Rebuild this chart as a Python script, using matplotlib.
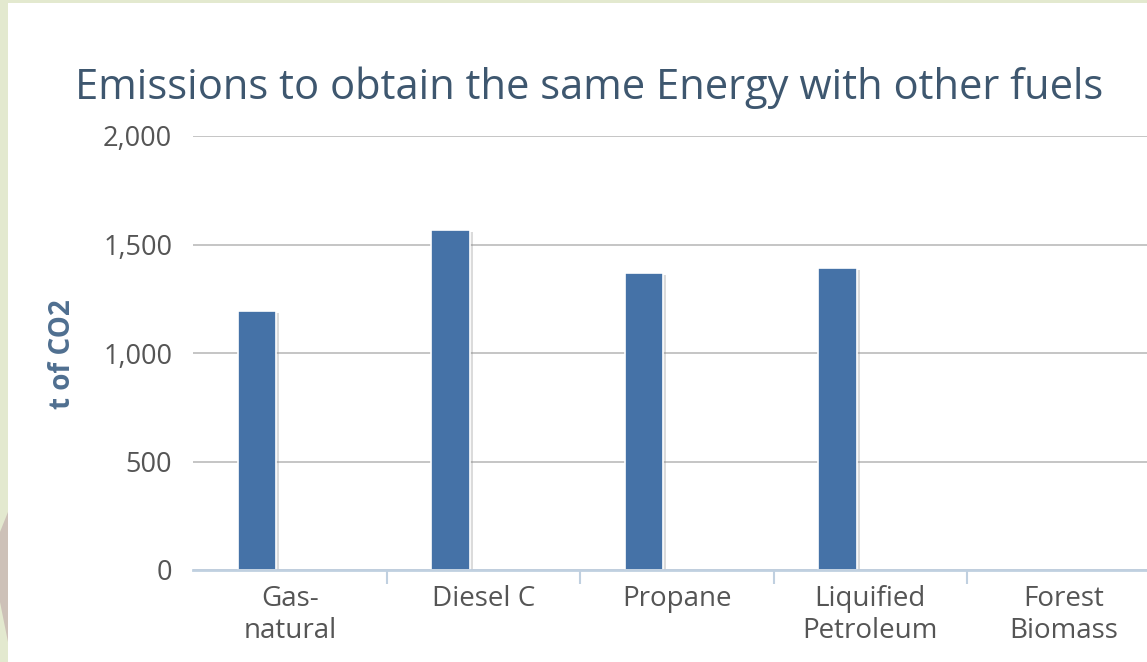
import numpy as np
import matplotlib.pyplot as plt
import matplotlib.patheffects as pe
from matplotlib.patches import Rectangle, Polygon

plt.rcParams['font.family'] = ['Open Sans', 'DejaVu Sans']

# Data
categories = ["Gas-\nnatural", "Diesel C", "Propane", "Liquified\nPetroleum", "Forest\nBiomass"]
emissions = [1195, 1567, 1370, 1393, 0]
y_ticks = [0, 500, 1000, 1500, 2000]

W, H = 1147, 662
fig = plt.figure(figsize=(W / 100, H / 100), dpi=100)
fig.patch.set_facecolor('#e3e9cf')

# white chart panel and a bit of the page decoration on the left
fig.patches.append(Polygon([(0, 130 / H), (8 / W, 150 / H), (8 / W, 20 / H), (0, 60 / H)],
                           closed=True, transform=fig.transFigure, facecolor='#cdc1b8',
                           edgecolor='none', zorder=-2))
fig.patches.append(Rectangle((8 / W, 0), 1, 1 - 3 / H, transform=fig.transFigure,
                             facecolor='white', edgecolor='none', zorder=-1))

ax = fig.add_axes([193 / W, (H - 570) / H, 967.5 / W, 434 / H])
ax.set_facecolor('none')
ax.set_zorder(2)

x = np.arange(len(categories))
vals = np.array(emissions, dtype=float)
shown = vals > 0  # empty categories get no column
bars = ax.bar(x[shown] - 0.17, vals[shown], width=0.198, color='#4572a7', edgecolor='white',
              linewidth=1.2, zorder=3)
for b in bars:
    b.set_path_effects([pe.SimplePatchShadow(offset=(2.5, -1.5), shadow_rgbFace='#888888', alpha=0.3),
                        pe.Normal()])

ax.set_xlim(-0.5, 4.5)
ax.set_ylim(0, 2000)
ax.set_yticks(y_ticks)
ax.set_yticklabels([f"{v:,}" for v in y_ticks])
ax.yaxis.grid(True, color='#c0c0c0', linewidth=1.3, zorder=0)
ax.set_axisbelow(True)
ax.tick_params(axis='y', length=0, pad=15, labelsize=19.5, labelcolor='#555555')

ax.set_xticks(x)
ax.set_xticklabels(categories, fontsize=20, color='#555555', linespacing=1.2)
ax.set_xticks(np.arange(0.5, 4.5, 1), minor=True)
ax.tick_params(axis='x', which='major', length=0, pad=11)
ax.tick_params(axis='x', which='minor', length=10, width=1.5, color='#c0d0e0')

for s in ['top', 'right', 'left']:
    ax.spines[s].set_visible(False)
ax.spines['bottom'].set_color('#c0d0e0')
ax.spines['bottom'].set_linewidth(2)
ax.spines['bottom'].set_zorder(4)

fig.text(62 / W, 1 - 354 / H, "t of CO2", rotation=90, ha='center', va='center',
         fontsize=20, fontweight='bold', color='#4f6f90')
fig.text(589 / W, 1 - 88 / H, "Emissions to obtain the same Energy with other fuels",
         ha='center', va='center', fontsize=30, color='#3e576f')

fig.savefig("out.png", dpi=100)
